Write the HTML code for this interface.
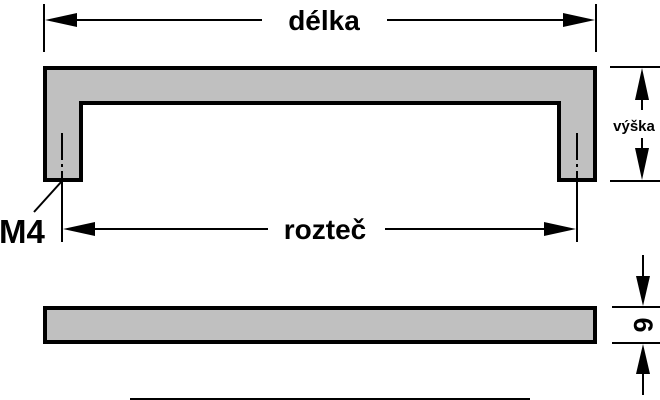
<!DOCTYPE html>
<html><head><meta charset="utf-8"><style>html,body{margin:0;padding:0;background:#fff}svg{display:block}</style></head>
<body>
<svg width="660" height="400" viewBox="0 0 660 400" xmlns="http://www.w3.org/2000/svg" font-family="Liberation Sans, Arial, sans-serif" font-weight="bold">
<g stroke="#000" stroke-width="2">
<line x1="44" y1="4" x2="44" y2="52"/>
<line x1="596" y1="4" x2="596" y2="52"/>
<line x1="60" y1="20" x2="262" y2="20"/>
<line x1="387" y1="20" x2="580" y2="20"/>
<line x1="62" y1="133" x2="62" y2="160"/><line x1="62" y1="164" x2="62" y2="167"/><line x1="62" y1="171" x2="62" y2="242"/>
<line x1="577" y1="133" x2="577" y2="160"/><line x1="577" y1="164" x2="577" y2="167"/><line x1="577" y1="171" x2="577" y2="242"/>
<line x1="62" y1="181" x2="34" y2="212"/>
<line x1="78" y1="229" x2="268" y2="229"/>
<line x1="385" y1="229" x2="561" y2="229"/>
<line x1="610" y1="67" x2="660" y2="67"/>
<line x1="610" y1="181" x2="660" y2="181"/>
<line x1="642" y1="84" x2="642" y2="110"/>
<line x1="642" y1="138" x2="642" y2="164"/>
<line x1="612" y1="307" x2="660" y2="307"/>
<line x1="612" y1="343" x2="660" y2="343"/>
<line x1="643" y1="255" x2="643" y2="288"/>
<line x1="643" y1="362" x2="643" y2="395"/>
<line x1="130" y1="399" x2="530" y2="399"/>
</g>
<g fill="#000">
<polygon points="45,20 77,13 77,27"/>
<polygon points="595,20 563,13 563,27"/>
<polygon points="63,229 95,222 95,236"/>
<polygon points="576,229 544,222 544,236"/>
<polygon points="642,68 635,100 649,100"/>
<polygon points="642,180 635,148 649,148"/>
<polygon points="643,306 636,276 650,276"/>
<polygon points="643,344 636,374 650,374"/>
</g>
<text x="324" y="30" font-size="28" text-anchor="middle">délka</text>
<path d="M45,68 H595 V180 H559 V103 H81 V180 H45 Z" fill="#c0c0c0" stroke="#000" stroke-width="4"/>
<g stroke="#000" stroke-width="2">
<line x1="62" y1="133" x2="62" y2="160"/><line x1="62" y1="164" x2="62" y2="167"/><line x1="62" y1="171" x2="62" y2="182"/>
<line x1="577" y1="133" x2="577" y2="160"/><line x1="577" y1="164" x2="577" y2="167"/><line x1="577" y1="171" x2="577" y2="182"/>
</g>
<text x="325" y="239" font-size="28" text-anchor="middle">rozteč</text>
<text x="-1" y="243" font-size="33">M4</text>
<text x="634" y="131" font-size="15" text-anchor="middle">výška</text>
<rect x="45" y="308" width="550" height="34" fill="#c0c0c0" stroke="#000" stroke-width="4"/>
<text x="0" y="0" font-size="27" text-anchor="middle" transform="translate(634,325) rotate(90)">6</text>
</svg>
</body></html>
